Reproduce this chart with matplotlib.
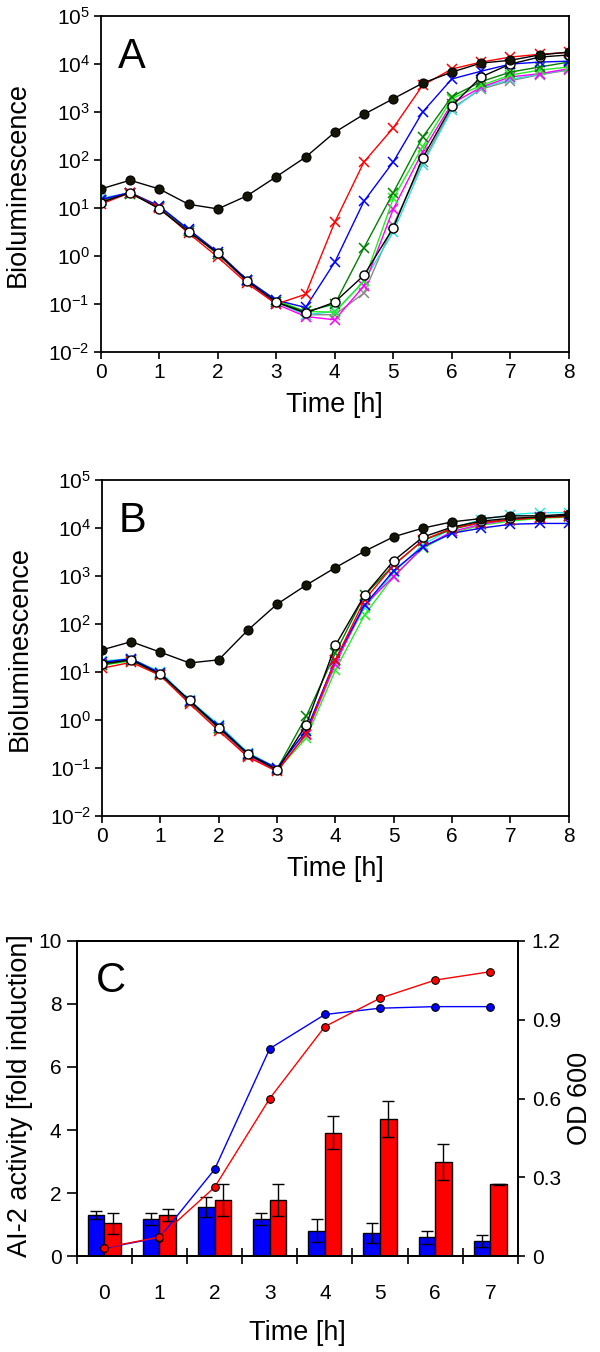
import numpy as np
import matplotlib
matplotlib.use('Agg')
import matplotlib.pyplot as plt

plt.rcParams['font.family'] = ['Liberation Sans', 'DejaVu Sans']
plt.rcParams['mathtext.fontset'] = 'custom'
plt.rcParams['mathtext.rm'] = 'Liberation Sans'
plt.rcParams['mathtext.default'] = 'regular'

# time points for the luminescence panels (every half hour)
time_h = np.arange(0, 8.5, 0.5)

# Panel A
a_black = [25, 38, 25, 12, 9.6, 18, 45, 115, 380, 900, 1900, 4000, 6800, 10500, 12000, 15500, 17800]
a_open = [13, 21, 9.6, 3.2, 1.15, 0.30, 0.11, 0.065, 0.11, 0.40, 3.9, 110, 1340, 5400, 10000, 14000, 15500]
a_red = [12, 21, 10, 3.0, 0.95, 0.27, 0.10, 0.16, 5.1, 92, 470, 3600, 7900, 11000, 14000, 16000, 17500]
a_blue = [15, 21, 11, 3.6, 1.2, 0.32, 0.12, 0.085, 0.75, 14, 92, 1000, 4900, 7100, 10000, 11000, 11500]
a_dkgreen = [14, 20, 10.5, 3.4, 1.1, 0.31, 0.11, 0.07, 0.10, 1.5, 21, 300, 2100, 4300, 6800, 8700, 11000]
a_ltgreen = [14, 20, 10.5, 3.4, 1.1, 0.31, 0.12, 0.07, 0.068, 0.30, 16, 190, 1900, 3600, 5900, 7500, 8700]
a_magenta = [15, 21, 10.5, 3.5, 1.1, 0.30, 0.10, 0.055, 0.047, 0.24, 9.6, 150, 1500, 3300, 5400, 6300, 8000]
a_grey = [15, 21, 10.5, 3.4, 1.1, 0.30, 0.11, 0.06, 0.06, 0.17, 4.5, 90, 1200, 3000, 4500, 6000, 7500]
a_cyan = [16, 21, 11, 3.5, 1.1, 0.31, 0.11, 0.06, 0.07, 0.30, 3.2, 80, 1100, 3200, 4800, 6200, 7800]

# Panel B
b_black = [29, 43, 26, 15.5, 18, 75, 260, 650, 1500, 3300, 6600, 10000, 13500, 15800, 18000, 18000, 19500]
b_open = [15, 18, 9, 2.6, 0.7, 0.2, 0.09, 0.8, 36, 400, 2100, 6500, 10500, 14000, 16000, 17000, 18500]
b_red = [12, 16, 8.5, 2.2, 0.6, 0.17, 0.085, 0.52, 18, 320, 1700, 5600, 10000, 13000, 15000, 16500, 17500]
b_blue = [16, 19, 9.5, 2.5, 0.75, 0.2, 0.1, 0.6, 18, 250, 1300, 4100, 7800, 10000, 12000, 12500, 12500]
b_dkgreen = [14, 18, 9, 2.4, 0.7, 0.19, 0.095, 1.2, 25, 400, 1700, 5500, 9500, 13000, 15000, 16500, 17500]
b_ltgreen = [14, 17, 8.5, 2.3, 0.65, 0.18, 0.09, 0.42, 11, 155, 1000, 3800, 8000, 11500, 14000, 16000, 17000]
b_magenta = [15, 18, 9, 2.4, 0.68, 0.18, 0.09, 0.5, 15, 250, 980, 4000, 8500, 12000, 15000, 17000, 18000]
b_cyan = [17, 19, 10, 2.6, 0.8, 0.21, 0.1, 0.6, 17, 220, 1200, 4500, 10000, 15000, 19000, 21000, 21000]

# Panel C
hours_c = [0, 1, 2, 3, 4, 5, 6, 7]
ai2_blue = [1.30, 1.18, 1.56, 1.18, 0.80, 0.73, 0.59, 0.47]
ai2_blue_err = [0.14, 0.19, 0.31, 0.19, 0.37, 0.33, 0.21, 0.19]
ai2_red = [1.04, 1.30, 1.77, 1.77, 3.92, 4.35, 2.97, 2.27]
ai2_red_err = [0.33, 0.19, 0.50, 0.50, 0.52, 0.58, 0.57, 0.02]
od_blue = [0.03, 0.07, 0.33, 0.79, 0.92, 0.944, 0.95, 0.95]
od_red = [0.032, 0.072, 0.262, 0.60, 0.874, 0.982, 1.051, 1.083]

TICK_FS = 15
LABEL_FS = 19.5
PANEL_FS = 30
SPINE_LW = 1.3


def lum_panel(ax, cross_series, black, open_c, letter):
    for vals, col in cross_series:
        ax.plot(time_h, vals, color=col, lw=1.0, marker='x', ms=7.5, mew=1.1)
    ax.plot(time_h, open_c, color='black', lw=1.0, marker='o', ms=6.5,
            mfc='white', mec='black', mew=1.0)
    ax.plot(time_h, black, color='black', lw=1.0, marker='o', ms=6.5,
            mfc='#151505', mec='black', mew=0.8)
    ax.set_yscale('log')
    ax.set_ylim(1e-2, 1e5)
    ax.set_xlim(0, 8)
    ax.set_xticks(range(9))
    ax.set_yticks([10.0 ** k for k in range(-2, 6)])
    ax.minorticks_off()
    ax.tick_params(direction='out', length=5, width=1.2, labelsize=TICK_FS, pad=3)
    for sp in ax.spines.values():
        sp.set_linewidth(SPINE_LW)
    ax.text(-0.177, 0.5, 'Bioluminescence', transform=ax.transAxes, rotation=90,
            ha='center', va='center', fontsize=LABEL_FS)
    ax.text(0.5, -0.158, 'Time [h]', transform=ax.transAxes,
            ha='center', va='center', fontsize=LABEL_FS)
    ax.text(0.036, 0.845, letter, transform=ax.transAxes, fontsize=PANEL_FS)


fig = plt.figure(figsize=(6, 13.52), dpi=100)

ax_a = fig.add_axes([0.168, 0.7396, 0.780, 0.2485])
lum_panel(ax_a, [(a_grey, '#8a8a8a'), (a_cyan, '#33dddd'), (a_magenta, '#ff00ff'),
                 (a_ltgreen, '#22ee22'), (a_dkgreen, '#008000'), (a_blue, '#0000ff'),
                 (a_red, '#ff0000')],
          a_black, a_open, 'A')

ax_b = fig.add_axes([0.170, 0.3964, 0.778, 0.2485])
lum_panel(ax_b, [(b_cyan, '#22e8e8'), (b_ltgreen, '#22ee22'), (b_magenta, '#ff00ff'),
                 (b_dkgreen, '#008000'), (b_blue, '#0000ff'), (b_red, '#ff0000')],
          b_black, b_open, 'B')

# Panel C: bars on the left axis, OD600 lines on the right axis
ax_c = fig.add_axes([0.128, 0.071, 0.735, 0.233])
x = np.array(hours_c)
bw = 0.3
ax_c.bar(x - bw / 2, ai2_blue, bw, color='#0000ff', edgecolor='black', lw=1.0, zorder=2)
ax_c.bar(x + bw / 2, ai2_red, bw, color='#ff0000', edgecolor='black', lw=1.0, zorder=2)
ax_c.errorbar(x - bw / 2, ai2_blue, yerr=ai2_blue_err, fmt='none', ecolor='black',
              elinewidth=1.0, capsize=4.3, capthick=1.0, zorder=3)
ax_c.errorbar(x + bw / 2, ai2_red, yerr=ai2_red_err, fmt='none', ecolor='black',
              elinewidth=1.0, capsize=4.3, capthick=1.0, zorder=3)
ax_c.set_xlim(-0.5, 7.5)
ax_c.set_ylim(0, 10)
ax_c.set_yticks([0, 2, 4, 6, 8, 10])
ax_c.set_xticks(hours_c)
ax_c.set_xticks(np.arange(-0.5, 8, 1), minor=True)
ax_c.tick_params(axis='x', which='major', length=0, pad=20, labelsize=TICK_FS)
ax_c.tick_params(axis='x', which='minor', direction='inout', length=12, width=1.2)
ax_c.tick_params(axis='y', direction='out', length=7, width=1.2, pad=4, labelsize=TICK_FS)
for sp in ax_c.spines.values():
    sp.set_linewidth(SPINE_LW)
ax_c.text(-0.129, 0.51, 'AI-2 activity [fold induction]', transform=ax_c.transAxes,
          rotation=90, ha='center', va='center', fontsize=LABEL_FS)
ax_c.text(0.5, -0.244, 'Time [h]', transform=ax_c.transAxes,
          ha='center', va='center', fontsize=LABEL_FS)
ax_c.text(0.043, 0.838, 'C', transform=ax_c.transAxes, fontsize=PANEL_FS)

ax_od = ax_c.twinx()
ax_od.plot(x, od_blue, color='#0000ff', lw=1.0, marker='o', ms=5.5, mfc='#0000ff',
           mec='black', mew=0.8, zorder=4)
ax_od.plot(x, od_red, color='#ff0000', lw=1.0, marker='o', ms=5.5, mfc='#ff0000',
           mec='black', mew=0.8, zorder=5)
ax_od.set_ylim(0, 1.2)
ax_od.set_yticks([0, 0.3, 0.6, 0.9, 1.2])
ax_od.set_yticklabels(['0', '0.3', '0.6', '0.9', '1.2'])
ax_od.tick_params(axis='y', direction='out', length=5, width=1.2, pad=5, labelsize=TICK_FS)
for sp in ax_od.spines.values():
    sp.set_linewidth(SPINE_LW)
ax_od.text(1.14, 0.5, 'OD 600', transform=ax_od.transAxes, rotation=90,
           ha='center', va='center', fontsize=LABEL_FS)

plt.savefig('out.png', dpi=100)
